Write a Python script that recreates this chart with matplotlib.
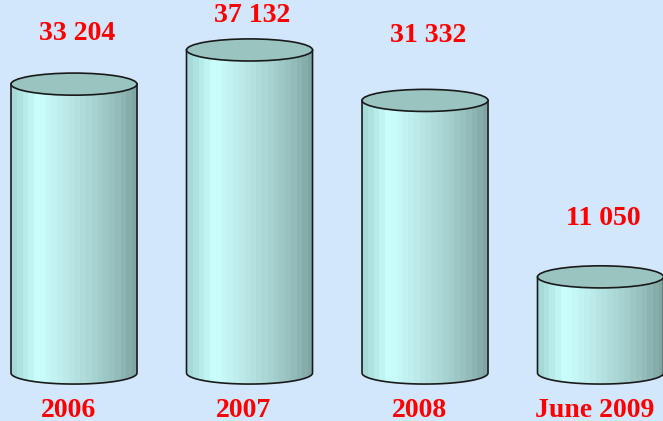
import numpy as np
import matplotlib
matplotlib.use("Agg")
import matplotlib.pyplot as plt
from matplotlib.patches import Ellipse, PathPatch
from matplotlib.path import Path
from matplotlib.colors import LinearSegmentedColormap

# data
categories = ["2006", "2007", "2008", "June 2009"]
values = [33204, 37132, 31332, 11050]
value_labels = ["33 204", "37 132", "31 332", "11 050"]

bg = "#d3e7fc"
red = "#ff0000"

# horizontal shading of the cylinder side, light on the left, dark on the right
side_cmap = LinearSegmentedColormap.from_list(
    "side",
    [(0.0, "#a6dad8"), (0.2, "#ccffff"), (0.55, "#b2dfdd"),
     (0.82, "#97c2c0"), (1.0, "#80a6a3")])


def draw_cylinder(ax, x, h, w, ry):
    x0, x1 = x - w / 2, x + w / 2
    # side outline: left edge down, front half of the bottom ellipse, right edge up
    t = np.linspace(np.pi, 2 * np.pi, 60)
    bx = x + w / 2 * np.cos(t)
    by = ry * np.sin(t)
    pts = [(x0, h)] + list(zip(bx, by)) + [(x1, h), (x0, h)]
    body = PathPatch(Path(pts), facecolor="none", edgecolor="none")
    ax.add_patch(body)
    grad = side_cmap(np.linspace(0, 1, 22))[np.newaxis, :, :]
    im = ax.imshow(grad, extent=[x0, x1, -ry, h], aspect="auto",
                   interpolation="nearest", zorder=1)
    im.set_clip_path(body)
    # outline of the side without the top edge
    ax.plot([x0] + list(bx) + [x1], [h] + list(by) + [h],
            color="#1a1a1a", lw=1.2, zorder=2)
    # top lid
    ax.add_patch(Ellipse((x, h), w, 2 * ry, facecolor="#99c4c0",
                         edgecolor="#1a1a1a", lw=1.2, zorder=3))


fig = plt.figure(figsize=(6.63, 4.21), dpi=100, facecolor=bg)
ax = fig.add_axes([0, 0, 1, 1])
ax.set_facecolor(bg)

xpos = np.arange(len(values))
width = 0.718
ry = 1270

for i, v in enumerate(values):
    draw_cylinder(ax, xpos[i], v, width, ry)

# value labels above each lid
offsets = [51, 34, 65, 58]
for i, v in enumerate(values):
    ax.annotate(value_labels[i], (xpos[i], v), xytext=(3, offsets[i]),
                textcoords="offset pixels", ha="center", va="center",
                color=red, fontsize=20, fontweight="bold",
                family="Liberation Serif")

# category labels under the cylinders
for i, c in enumerate(categories):
    ax.annotate(c, (xpos[i], 0), xytext=(-6, -37),
                textcoords="offset pixels", ha="center", va="center",
                color=red, fontsize=20, fontweight="bold",
                family="Liberation Serif")

ax.set_xlim(-0.4217, 3.356)
ax.set_ylim(-5517, 42874)
ax.axis("off")

fig.savefig("out.png", dpi=100, facecolor=bg)
